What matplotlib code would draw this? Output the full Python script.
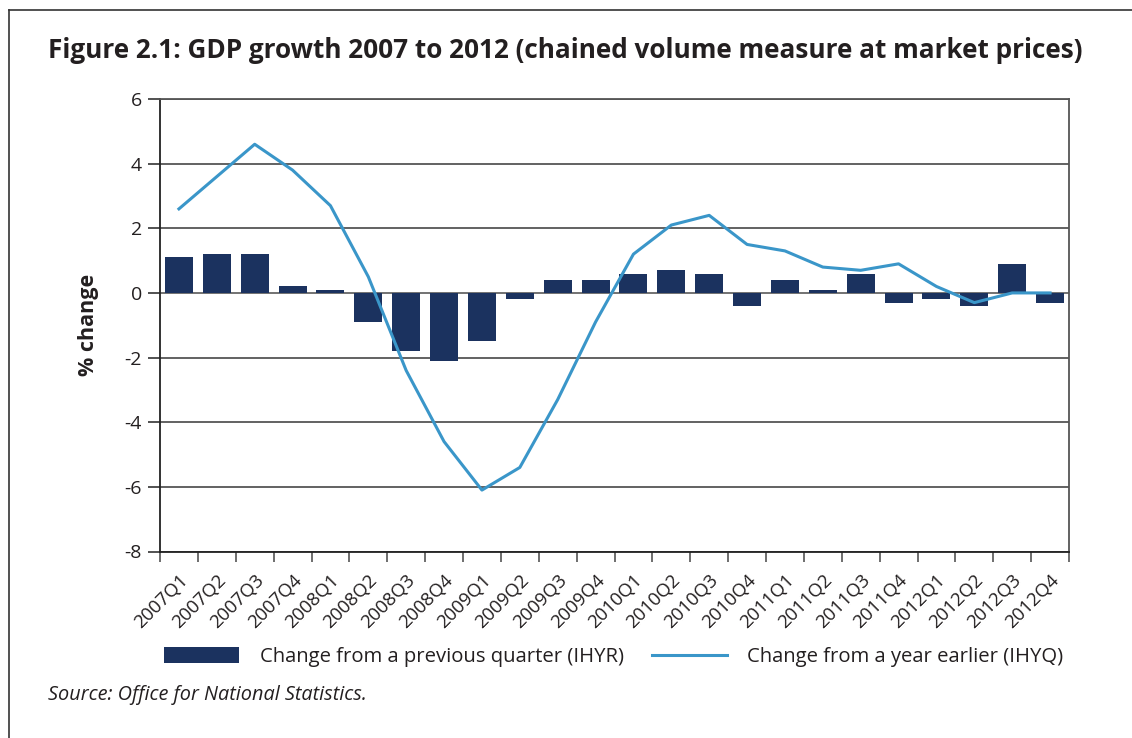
import matplotlib
matplotlib.use('Agg')
import matplotlib.pyplot as plt
from matplotlib.lines import Line2D
from matplotlib.patches import Patch

# Quarters and values
quarters = ['2007Q1', '2007Q2', '2007Q3', '2007Q4', '2008Q1', '2008Q2', '2008Q3', '2008Q4',
            '2009Q1', '2009Q2', '2009Q3', '2009Q4', '2010Q1', '2010Q2', '2010Q3', '2010Q4',
            '2011Q1', '2011Q2', '2011Q3', '2011Q4', '2012Q1', '2012Q2', '2012Q3', '2012Q4']
qoq_change = [1.1, 1.2, 1.2, 0.2, 0.1, -0.9, -1.8, -2.1, -1.5, -0.2, 0.4, 0.4,
              0.6, 0.7, 0.6, -0.4, 0.4, 0.1, 0.6, -0.3, -0.2, -0.4, 0.9, -0.3]
yoy_change = [2.6, 3.6, 4.6, 3.8, 2.7, 0.5, -2.4, -4.6, -6.1, -5.4, -3.3, -0.9,
              1.2, 2.1, 2.4, 1.5, 1.3, 0.8, 0.7, 0.9, 0.2, -0.3, 0.0, 0.0]
y_ticks = [-8, -6, -4, -2, 0, 2, 4, 6]

bar_color = '#1b325f'
line_color = '#3a96c9'
text_color = '#231f20'

plt.rcParams['font.family'] = ['Open Sans', 'DejaVu Sans']
plt.rcParams['text.color'] = text_color

fig = plt.figure(figsize=(11.32, 7.38), dpi=100)
ax = fig.add_axes([160 / 1132, 1 - 551.5 / 738, 909 / 1132, 452.5 / 738])

x = list(range(len(quarters)))
ax.bar(x, qoq_change, width=0.74, color=bar_color, zorder=3)
ax.plot(x, yoy_change, color=line_color, linewidth=2.2, zorder=4)

ax.set_xlim(-0.5, len(quarters) - 0.5)
ax.set_ylim(-8, 6)
ax.set_yticks(y_ticks)
ax.set_yticklabels([str(v) for v in y_ticks], fontsize=14, color=text_color)
ax.tick_params(axis='y', length=9, width=1.2, color='#333333', pad=4)

# labels at category centres, tick marks at boundaries
ax.set_xticks(x)
ax.set_xticklabels(quarters, rotation=45, ha='right', rotation_mode='anchor',
                   fontsize=13.4, color=text_color)
ax.tick_params(axis='x', which='major', length=0, pad=14)
ax.set_xticks([i - 0.5 for i in range(len(quarters) + 1)], minor=True)
ax.tick_params(axis='x', which='minor', length=7, width=1.2, color='#555555')

ax.grid(axis='y', color='#555555', linewidth=1.3, zorder=1)
ax.axhline(0, color='#777777', linewidth=1.3, zorder=2)
for side in ['left', 'bottom']:
    ax.spines[side].set_color('#222222')
    ax.spines[side].set_linewidth(1.3)
for side in ['right', 'top']:
    ax.spines[side].set_color('#555555')
    ax.spines[side].set_linewidth(1.3)

ax.set_ylabel('% change', fontsize=15.5, fontweight='bold', labelpad=18, color=text_color)

fig.text(48 / 1132, 1 - 50 / 738, 'Figure 2.1: GDP growth 2007 to 2012 (chained volume measure at market prices)',
         fontsize=18.8, fontweight='bold', va='center', ha='left', color=text_color)

handles = [Patch(facecolor=bar_color, edgecolor='none'),
           Line2D([0], [0], color=line_color, linewidth=2.2)]
fig.legend(handles, ['Change from a previous quarter (IHYR)', 'Change from a year earlier (IHYQ)'],
           loc='center left', bbox_to_anchor=(146 / 1132, 1 - 657 / 738), ncol=2, frameon=False,
           fontsize=14.6, handlelength=3.7, handleheight=0.8, handletextpad=1.0, columnspacing=1.4)

fig.text(48 / 1132, 1 - 695 / 738, 'Source: Office for National Statistics.', fontsize=14.3,
         style='italic', va='center', ha='left', color=text_color)

# page frame (top and left edges)
fig.add_artist(Line2D([9 / 1132, 1], [1 - 10 / 738, 1 - 10 / 738], color='#333333', linewidth=1.2))
fig.add_artist(Line2D([9 / 1132, 9 / 1132], [0, 1 - 10 / 738], color='#333333', linewidth=1.2))

fig.savefig('out.png', dpi=100)
